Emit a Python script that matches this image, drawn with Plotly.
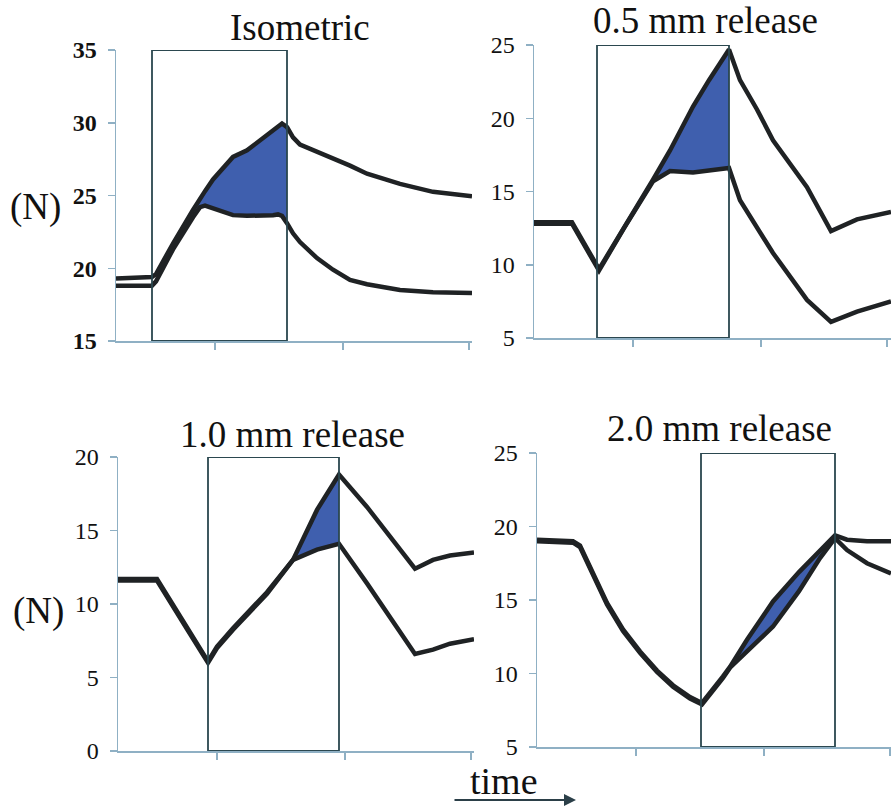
import plotly.graph_objects as go

W, H = 891, 806

# ---------------- data (time in arbitrary units, force in N) ----------------
titles = ["Isometric", "0.5 mm release", "1.0 mm release", "2.0 mm release"]

t_iso = [0, 36, 40, 57, 77, 84, 89, 97, 101, 111, 117, 131, 144, 151, 157, 162, 166, 171, 177, 184, 201, 217, 234, 251, 284, 317, 356]
up_iso = [19.3, 19.4, 19.6, 21.7, 24.0, 24.8, 25.3, 26.1, 26.4, 27.2, 27.65, 28.1, 28.8, 29.15, 29.5, 29.75, 29.95, 29.7, 29.0, 28.5, 28.0, 27.6, 27.05, 26.5, 25.8, 25.25, 24.95]
lo_iso = [18.8, 18.8, 19.1, 21.3, 23.5, 24.2, 24.3, 24.1, 24.0, 23.8, 23.65, 23.6, 23.6, 23.6, 23.65, 23.7, 23.6, 23.1, 22.4, 21.8, 20.7, 19.9, 19.2, 18.9, 18.5, 18.35, 18.3]

t_05 = [0, 38, 65, 90, 119, 136, 159, 175, 195, 206, 223, 239, 273, 297, 323, 357]
up_05 = [12.9, 12.9, 9.7, 12.5, 15.8, 17.8, 20.8, 22.6, 24.7, 22.6, 20.6, 18.5, 15.3, 12.3, 13.1, 13.6]
lo_05 = [12.8, 12.8, 9.6, 12.5, 15.7, 16.4, 16.3, 16.4, 16.6, 14.4, 12.6, 10.8, 7.6, 6.1, 6.8, 7.5]

t_10 = [0, 39, 69, 90, 99, 115, 149, 175, 199, 221, 249, 297, 315, 332, 356]
up_10 = [11.7, 11.7, 8.4, 6.1, 7.1, 8.35, 10.8, 13.0, 16.4, 18.8, 16.6, 12.4, 13.0, 13.3, 13.5]
lo_10 = [11.6, 11.6, 8.3, 6.0, 7.0, 8.25, 10.7, 13.0, 13.7, 14.1, 11.4, 6.6, 6.9, 7.3, 7.6]

t_20 = [0, 36, 43, 53, 60, 70, 86, 103, 120, 136, 153, 165, 186, 193, 210, 236, 262, 283, 298, 310, 330, 354]
up_20 = [19.1, 19.0, 18.7, 17.3, 16.2, 14.8, 13.0, 11.5, 10.2, 9.2, 8.4, 8.0, 9.8, 10.45, 12.3, 14.9, 16.9, 18.3, 19.4, 19.1, 19.0, 19.0]
lo_20 = [19.0, 18.9, 18.6, 17.2, 16.1, 14.7, 12.9, 11.4, 10.1, 9.1, 8.3, 7.9, 9.7, 10.4, 11.5, 13.2, 15.6, 17.85, 19.2, 18.4, 17.5, 16.8]

times = [t_iso, t_05, t_10, t_20]
uppers = [up_iso, up_05, up_10, up_20]
lowers = [lo_iso, lo_05, lo_10, lo_20]

# shaded interval (start, end) and stimulation box (start, end)
fill_start = [77, 119, 175, 193]
fill_end = [171, 195, 221, 298]
box_start = [36, 63, 90, 164]
box_end = [171, 195, 221, 298]

y_ranges = [(15, 35), (5, 25), (0, 20), (5, 25)]
y_ticks = [[15, 20, 25, 30, 35], [5, 10, 15, 20, 25], [0, 5, 10, 15, 20], [5, 10, 15, 20, 25]]
x_ticks = [99, 227, 353]

# ---------------- layout geometry (pixels) ----------------
px_x = [(116, 472), (534, 891), (118, 474), (537, 891)]
px_y = [(50, 341), (45, 338), (457, 751), (453, 747)]

AXIS_COL = "#8fb0c4"
LINE_COL = "#1f2224"
BOX_COL = "#2b474f"
FILL_COL = "#3f5fae"
SERIF = "Liberation Serif, Times New Roman, serif"

fig = go.Figure()
layout = dict(width=W, height=H, margin=dict(l=0, r=0, t=0, b=0, autoexpand=False),
              paper_bgcolor="white", plot_bgcolor="white", showlegend=False,
              template="none")

shapes = []
for i in range(4):
    sfx = "" if i == 0 else str(i + 1)
    xa, ya = "x" + sfx, "y" + sfx
    t, up, lo = times[i], uppers[i], lowers[i]

    sel = [k for k in range(len(t)) if fill_start[i] <= t[k] <= fill_end[i]]
    fx = [t[k] for k in sel] + [t[k] for k in reversed(sel)]
    fy = [up[k] for k in sel] + [lo[k] for k in reversed(sel)]
    fig.add_trace(go.Scatter(x=fx, y=fy, fill="toself", fillcolor=FILL_COL,
                             line=dict(width=0), mode="lines", hoverinfo="skip",
                             xaxis=xa, yaxis=ya))
    for series in (lo, up):
        fig.add_trace(go.Scatter(x=t, y=series, mode="lines",
                                 line=dict(color=LINE_COL, width=4.5),
                                 hoverinfo="skip", xaxis=xa, yaxis=ya))

    shapes.append(dict(type="rect", xref=xa, yref=ya,
                       x0=box_start[i], x1=box_end[i],
                       y0=y_ranges[i][0], y1=y_ranges[i][1],
                       line=dict(color=BOX_COL, width=1.8), layer="above"))

    x0p, x1p = px_x[i]
    y0p, y1p = px_y[i]
    layout["xaxis" + sfx] = dict(
        domain=[x0p / W, x1p / W], anchor=ya, range=[0, x1p - x0p], automargin=False,
        showgrid=False, zeroline=False, showline=True, linecolor=AXIS_COL, linewidth=1.5,
        ticks="outside", ticklen=7, tickcolor=AXIS_COL, tickwidth=1.5,
        tickvals=x_ticks, showticklabels=False, fixedrange=True)
    layout["yaxis" + sfx] = dict(
        domain=[1 - y1p / H, 1 - y0p / H], anchor=xa, range=list(y_ranges[i]), automargin=False,
        showgrid=False, zeroline=False, showline=True, linecolor=AXIS_COL, linewidth=1.5,
        ticks="outside", ticklen=7, tickcolor=AXIS_COL, tickwidth=1.5,
        tickvals=y_ticks[i], ticklabelstandoff=6,
        tickfont=dict(family=SERIF, size=24, color="#111111",
                      weight="bold" if i == 0 else "normal"),
        fixedrange=True)

layout["shapes"] = shapes

title_pos = [(300, 28), (705, 20), (292, 434), (719, 428)]
ann = []
for txt, (cx, cy) in zip(titles, title_pos):
    ann.append(dict(text=txt, x=cx / W, y=1 - cy / H, xref="paper", yref="paper",
                    xanchor="center", yanchor="middle", showarrow=False,
                    font=dict(family=SERIF, size=37, color="#111111")))
for cx, cy in [(35, 207), (38, 611)]:
    ann.append(dict(text="(N)", x=cx / W, y=1 - cy / H, xref="paper", yref="paper",
                    xanchor="center", yanchor="middle", showarrow=False,
                    font=dict(family=SERIF, size=37, color="#111111")))
ann.append(dict(text="time", x=504 / W, y=1 - 781 / H, xref="paper", yref="paper",
                xanchor="center", yanchor="middle", showarrow=False,
                font=dict(family=SERIF, size=38, color="#111111")))
ann.append(dict(text="", x=576 / W, y=1 - 800 / H, xref="paper", yref="paper",
                ax=-123, ay=0, showarrow=True, arrowhead=2, arrowsize=1.2,
                arrowwidth=2, arrowcolor="#2b3f48"))
layout["annotations"] = ann

fig.update_layout(**layout)
fig.write_html("out.html", config={"displayModeBar": False, "staticPlot": True},
               post_script="document.body.style.margin='0';document.body.style.overflow='hidden';")
